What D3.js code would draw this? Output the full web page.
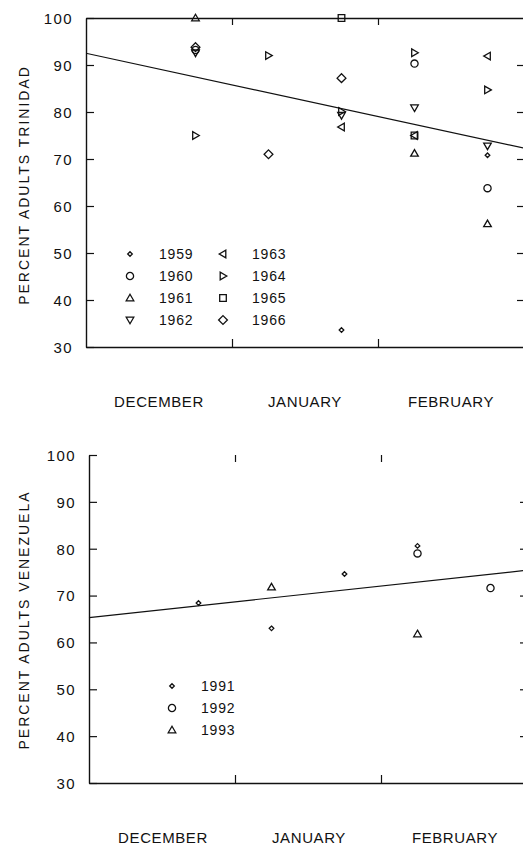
<!doctype html>
<html lang="en">
  <head>
    <meta charset="utf-8">
    <title>Percent adults, Trinidad and Venezuela</title>
    <style>
      body{margin:0;background:#fff;}
      svg{display:block;}
      text{font-family:"Liberation Sans", Arial, Helvetica, sans-serif;fill:#111;}
    </style>
  </head>
  <body>
    <div class="holder"></div>
    <script src="https://cdn.jsdelivr.net/npm/d3@7"></script>
    <script>

      // month labels and sampling times (months since 1 December)
      var months = ["DECEMBER", "JANUARY", "FEBRUARY"];
      var sampleTimes = [0.75, 1.25, 1.75, 2.25, 2.75];
      var yTicks = [30, 40, 50, 60, 70, 80, 90, 100];

      // Trinidad, one value per sampling time (null = no sample)
      var trinidadYears = ["1959", "1960", "1961", "1962", "1963", "1964", "1965", "1966"];
      var t1959 = [null, null, 33.6, null, 70.8];
      var t1960 = [93.2, null, null, 90.3, 63.8];
      var t1961 = [100, null, null, 71.2, 56.2];
      var t1962 = [92.6, null, 79.3, 80.9, 72.8];
      var t1963 = [null, null, 76.8, 75.0, 91.9];
      var t1964 = [75.0, 92.0, 80.1, 92.6, 84.7];
      var t1965 = [null, null, 100, 75.0, null];
      var t1966 = [93.8, 71.0, 87.2, null, null];
      var trinidadTrend = [92.5, 72.3];   // fitted line at start and end of the three months

      // Venezuela
      var venezuelaYears = ["1991", "1992", "1993"];
      var v1991 = [68.4, 63.0, 74.6, 80.6, null];
      var v1992 = [null, null, null, 79.0, 71.6];
      var v1993 = [null, 71.8, null, 61.8, null];
      var venezuelaTrend = [65.3, 75.4];

      var trinidadSeries = [t1959, t1960, t1961, t1962, t1963, t1964, t1965, t1966];
      var venezuelaSeries = [v1991, v1992, v1993];

      // marker shapes, in legend order
      var shapes = {
        dot: function(){ return "M0,-2.3L2.3,0L0,2.3L-2.3,0Z"; },
        circle: function(){ return "M3.6,0A3.6,3.6 0 1,1 -3.6,0A3.6,3.6 0 1,1 3.6,0Z"; },
        up: function(){ return "M0,-3.8L3.8,2.8L-3.8,2.8Z"; },
        down: function(){ return "M0,3.8L3.8,-2.8L-3.8,-2.8Z"; },
        left: function(){ return "M-3.8,0L2.8,-3.8L2.8,3.8Z"; },
        right: function(){ return "M3.8,0L-2.8,-3.8L-2.8,3.8Z"; },
        square: function(){ return "M-3.3,-3.3H3.3V3.3H-3.3Z"; },
        diamond: function(){ return "M0,-4.4L4.4,0L0,4.4L-4.4,0Z"; }
      };
      var trinidadShapes = ["dot", "circle", "up", "down", "left", "right", "square", "diamond"];
      var venezuelaShapes = ["dot", "circle", "up"];

      var svg = d3.select(".holder")
          .append("svg")
          .attr("width", 523)
          .attr("height", 845);

      function drawPanel(opt) {
        var x = d3.scaleLinear().domain([0, 3]).range([opt.left, opt.right]);
        var y = d3.scaleLinear().domain([30, 100]).range([opt.bottom, opt.top]);
        var g = svg.append("g");

        // left axis with inward ticks
        var left = g.append("g")
            .attr("transform", "translate(" + opt.left + ",0)")
            .call(d3.axisLeft(y).tickValues(yTicks).tickSizeInner(-8).tickSizeOuter(0).tickPadding(13));
        left.selectAll("text")
            .style("font-size", "15px")
            .style("letter-spacing", "1.4px")
            .attr("dy", "0.36em");

        g.append("g")
            .attr("transform", "translate(" + opt.right + ",0)")
            .call(d3.axisRight(y).tickValues(yTicks.slice(1, -1)).tickSizeInner(-7).tickSizeOuter(0).tickFormat(""));

        g.append("g")
            .attr("transform", "translate(0," + opt.bottom + ")")
            .call(d3.axisBottom(x).tickValues([1, 2]).tickSizeInner(-8).tickSizeOuter(0).tickFormat(""));

        var top = g.append("g")
            .attr("transform", "translate(0," + opt.top + ")")
            .call(d3.axisTop(x).tickValues([1, 2]).tickSizeInner(-7).tickSizeOuter(0).tickFormat(""));
        if (!opt.topLine) top.select(".domain").remove();

        g.selectAll(".domain").attr("stroke", "#111").attr("stroke-width", 1.4);
        g.selectAll(".tick line").attr("stroke", "#111").attr("stroke-width", 1.2);

        // month names centred in each month
        g.selectAll(".month")
            .data(months)
            .enter().append("text")
            .attr("class", "month")
            .attr("x", function(d, i){ return x(i + 0.5) + opt.labelShift; })
            .attr("y", opt.bottom + 60)
            .attr("text-anchor", "middle")
            .style("font-size", "15px")
            .style("letter-spacing", "0.6px")
            .text(function(d){ return d; });

        // y title
        g.append("text")
            .attr("transform", "translate(29," + opt.titleY + ") rotate(-90)")
            .attr("text-anchor", "middle")
            .style("font-size", "14px")
            .style("letter-spacing", "2px")
            .text(opt.title);

        // fitted line
        g.append("line")
            .attr("x1", x(0)).attr("y1", y(opt.trend[0]))
            .attr("x2", x(3)).attr("y2", y(opt.trend[1]))
            .attr("stroke", "#111")
            .attr("stroke-width", 1.2);

        // data points
        opt.series.forEach(function(vals, k) {
          var pts = sampleTimes.map(function(t, i){ return {t: t, v: vals[i]}; })
              .filter(function(d){ return d.v !== null; });
          g.selectAll(".pt" + k)
              .data(pts)
              .enter().append("path")
              .attr("transform", function(d){ return "translate(" + x(d.t) + "," + y(d.v) + ")"; })
              .attr("d", shapes[opt.shapes[k]])
              .attr("fill", "none")
              .attr("stroke", "#111")
              .attr("stroke-width", 1.3);
        });

        // legend
        var leg = g.selectAll(".leg")
            .data(opt.years)
            .enter().append("g")
            .attr("transform", function(d, i){
              var col = Math.floor(i / opt.legendRows), row = i % opt.legendRows;
              return "translate(" + (opt.legendX + col * 93) + "," + (opt.legendY + row * 22) + ")";
            });
        leg.append("path")
            .attr("d", function(d, i){ return shapes[opt.shapes[i]](); })
            .attr("fill", "none")
            .attr("stroke", "#111")
            .attr("stroke-width", 1.3);
        leg.append("text")
            .attr("x", 29)
            .attr("dy", "0.36em")
            .style("font-size", "14px")
            .style("letter-spacing", "0.8px")
            .text(function(d){ return d; });
      }

      drawPanel({
        left: 86, right: 524, top: 18, bottom: 347, topLine: true,
        trend: trinidadTrend, series: trinidadSeries, shapes: trinidadShapes, years: trinidadYears,
        title: "PERCENT ADULTS TRINIDAD", titleY: 185,
        legendX: 130, legendY: 254, legendRows: 4, labelShift: 0
      });

      drawPanel({
        left: 89, right: 527, top: 455, bottom: 783, topLine: false,
        trend: venezuelaTrend, series: venezuelaSeries, shapes: venezuelaShapes, years: venezuelaYears,
        title: "PERCENT ADULTS VENEZUELA", titleY: 620,
        legendX: 172, legendY: 686, legendRows: 3, labelShift: 1
      });

    </script>
  </body>
</html>
